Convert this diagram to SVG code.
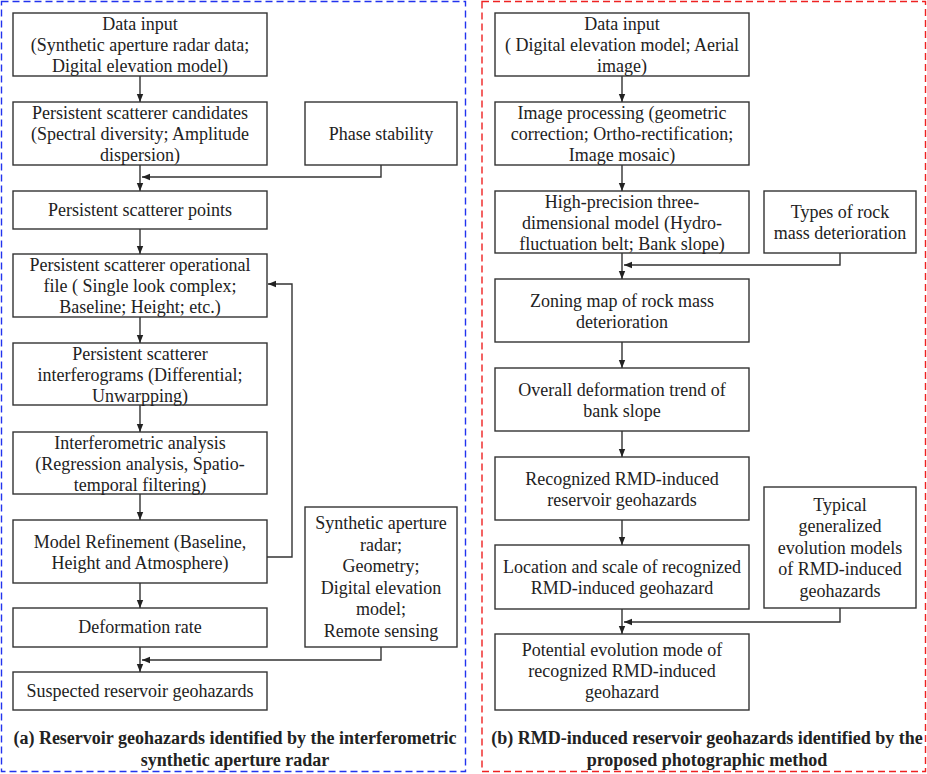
<svg xmlns="http://www.w3.org/2000/svg" width="927" height="774" viewBox="0 0 927 774">
<style>
.b{fill:#fff;stroke:#333;stroke-width:1.4}
.t{font-family:"Liberation Serif","Times New Roman",serif;font-size:18px;fill:#222;text-anchor:middle}
.cap{font-family:"Liberation Serif","Times New Roman",serif;font-size:18px;font-weight:bold;fill:#222;text-anchor:middle}
.c{fill:none;stroke:#333;stroke-width:1.4;marker-end:url(#ah)}
</style>
<defs>
<marker id="ah" viewBox="0 0 10 10" refX="10" refY="5" markerWidth="8" markerHeight="8" markerUnits="userSpaceOnUse" orient="auto">
<path d="M0,1 L10,5 L0,9 z" fill="#222"/>
</marker>
</defs>
<rect x="1.5" y="1.5" width="464" height="770" fill="none" stroke="#2233ee" stroke-width="1.4" stroke-dasharray="7,4"/>
<rect x="482" y="1.5" width="443.5" height="770" fill="none" stroke="#ee2222" stroke-width="1.4" stroke-dasharray="7,4"/>

<g id="a1"><rect class="b" x="13" y="13" width="254" height="63"/><text class="t" x="140" y="30">Data input</text><text class="t" x="140" y="51">(Synthetic aperture radar data;</text><text class="t" x="140" y="72">Digital elevation model)</text></g>
<g id="a2"><rect class="b" x="13" y="102" width="254" height="63"/><text class="t" x="140" y="119">Persistent scatterer candidates</text><text class="t" x="140" y="140">(Spectral diversity; Amplitude</text><text class="t" x="140" y="161">dispersion)</text></g>
<g id="aps"><rect class="b" x="305" y="102" width="152" height="63"/><text class="t" x="381" y="140">Phase stability</text></g>
<g id="a3"><rect class="b" x="13" y="191" width="254" height="38"/><text class="t" x="140" y="216">Persistent scatterer points</text></g>
<g id="a4"><rect class="b" x="13" y="254" width="254" height="63"/><text class="t" x="140" y="271">Persistent scatterer operational</text><text class="t" x="140" y="292">file ( Single look complex;</text><text class="t" x="140" y="313">Baseline; Height; etc.)</text></g>
<g id="a5"><rect class="b" x="13" y="343" width="254" height="62"/><text class="t" x="140" y="360">Persistent scatterer</text><text class="t" x="140" y="381">interferograms (Differential;</text><text class="t" x="140" y="402">Unwarpping)</text></g>
<g id="a6"><rect class="b" x="13" y="432" width="254" height="62"/><text class="t" x="140" y="449">Interferometric analysis</text><text class="t" x="140" y="470">(Regression analysis, Spatio-</text><text class="t" x="140" y="491">temporal filtering)</text></g>
<g id="a7"><rect class="b" x="13" y="520" width="254" height="63"/><text class="t" x="140" y="548">Model Refinement (Baseline,</text><text class="t" x="140" y="569">Height and Atmosphere)</text></g>
<g id="a8"><rect class="b" x="13" y="608" width="254" height="39"/><text class="t" x="140" y="633">Deformation rate</text></g>
<g id="a9"><rect class="b" x="13" y="672" width="254" height="38"/><text class="t" x="140" y="697">Suspected reservoir geohazards</text></g>
<g id="asar"><rect class="b" x="305" y="507" width="152" height="140"/><text class="t" x="381" y="529">Synthetic aperture</text><text class="t" x="381" y="551">radar;</text><text class="t" x="381" y="572">Geometry;</text><text class="t" x="381" y="594">Digital elevation</text><text class="t" x="381" y="615">model;</text><text class="t" x="381" y="637">Remote sensing</text></g>
<g id="capa"><text class="cap" x="235" y="744">(a) Reservoir geohazards identified by the interferometric</text><text class="cap" x="235" y="766">synthetic aperture radar</text></g>

<g id="b1"><rect class="b" x="495" y="13" width="254" height="63"/><text class="t" x="622" y="30">Data input</text><text class="t" x="622" y="51">( Digital elevation model; Aerial</text><text class="t" x="622" y="72">image)</text></g>
<g id="b2"><rect class="b" x="495" y="102" width="254" height="63"/><text class="t" x="622" y="119">Image processing (geometric</text><text class="t" x="622" y="140">correction; Ortho-rectification;</text><text class="t" x="622" y="161">Image mosaic)</text></g>
<g id="b3"><rect class="b" x="495" y="191" width="254" height="62"/><text class="t" x="622" y="208">High-precision three-</text><text class="t" x="622" y="229">dimensional model (Hydro-</text><text class="t" x="622" y="250">fluctuation belt; Bank slope)</text></g>
<g id="btr"><rect class="b" x="764" y="191" width="152" height="62"/><text class="t" x="840" y="218">Types of rock</text><text class="t" x="840" y="239">mass deterioration</text></g>
<g id="b4"><rect class="b" x="495" y="279" width="254" height="63"/><text class="t" x="622" y="307">Zoning map of rock mass</text><text class="t" x="622" y="328">deterioration</text></g>
<g id="b5"><rect class="b" x="495" y="368" width="254" height="63"/><text class="t" x="622" y="396">Overall deformation trend of</text><text class="t" x="622" y="417">bank slope</text></g>
<g id="b6"><rect class="b" x="495" y="457" width="254" height="63"/><text class="t" x="622" y="485">Recognized RMD-induced</text><text class="t" x="622" y="506">reservoir geohazards</text></g>
<g id="btg"><rect class="b" x="764" y="487" width="152" height="121"/><text class="t" x="840" y="511">Typical</text><text class="t" x="840" y="532">generalized</text><text class="t" x="840" y="554">evolution models</text><text class="t" x="840" y="575">of RMD-induced</text><text class="t" x="840" y="597">geohazards</text></g>
<g id="b7"><rect class="b" x="495" y="545" width="254" height="64"/><text class="t" x="622" y="573">Location and scale of recognized</text><text class="t" x="622" y="594">RMD-induced geohazard</text></g>
<g id="b8"><rect class="b" x="495" y="634" width="254" height="76"/><text class="t" x="622" y="656">Potential evolution mode of</text><text class="t" x="622" y="677">recognized RMD-induced</text><text class="t" x="622" y="698">geohazard</text></g>
<g id="capb"><text class="cap" x="707" y="744">(b) RMD-induced reservoir geohazards identified by the</text><text class="cap" x="707" y="766">proposed photographic method</text></g>

<g id="connectors">
<path class="c" d="M140,76 V102"/>
<path class="c" d="M140,165 V191"/>
<path class="c" d="M381,165 V177 H142"/>
<path class="c" d="M140,229 V254"/>
<path class="c" d="M140,317 V343"/>
<path class="c" d="M140,405 V432"/>
<path class="c" d="M140,494 V520"/>
<path class="c" d="M267,557 H292 V284 H268"/>
<path class="c" d="M140,583 V608"/>
<path class="c" d="M140,647 V672"/>
<path class="c" d="M381,647 V660 H142"/>
<path class="c" d="M622,76 V102"/>
<path class="c" d="M622,165 V191"/>
<path class="c" d="M622,253 V279"/>
<path class="c" d="M840,253 V265 H624"/>
<path class="c" d="M622,342 V368"/>
<path class="c" d="M622,431 V457"/>
<path class="c" d="M622,520 V545"/>
<path class="c" d="M622,609 V634"/>
<path class="c" d="M840,608 V622 H624"/>
</g>
</svg>
